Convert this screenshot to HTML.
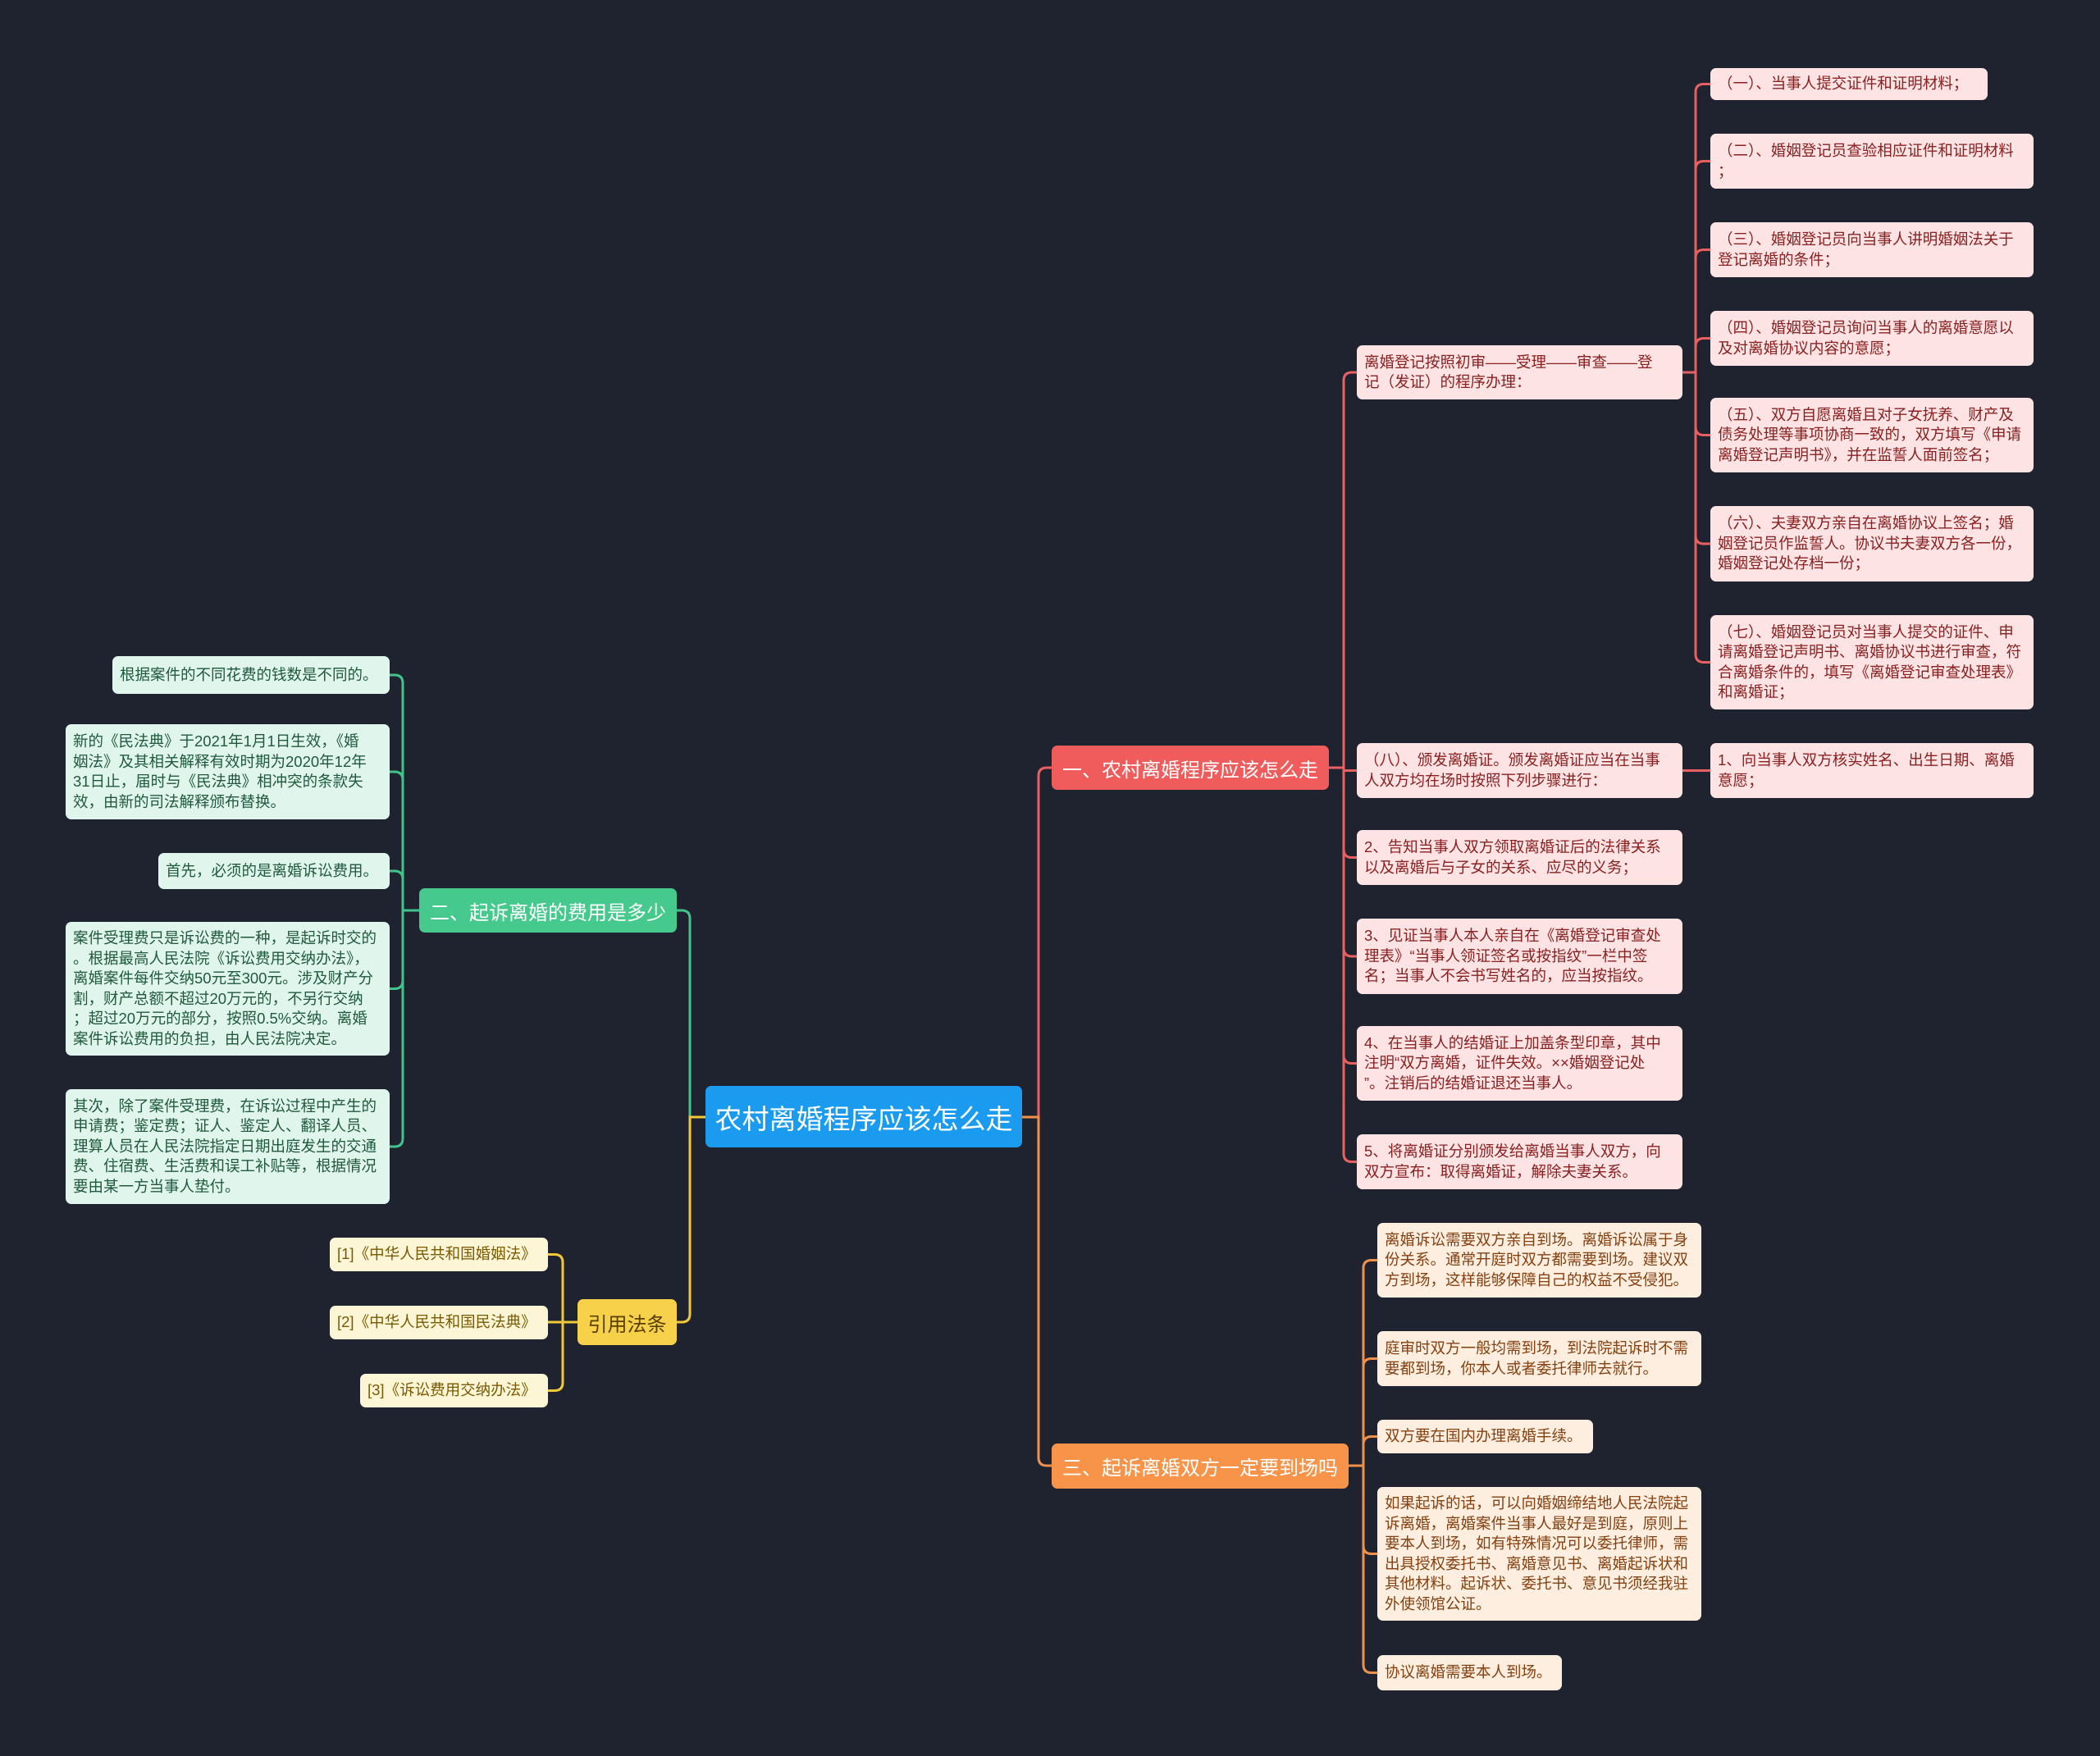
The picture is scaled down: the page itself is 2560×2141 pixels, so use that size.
<!DOCTYPE html>
<html><head><meta charset="utf-8">
<style>
html,body{margin:0;padding:0}
body{width:2560px;height:2141px;background:#1f2330;position:relative;overflow:hidden;font-family:"Liberation Sans","Noto Sans CJK SC",sans-serif}
.n{position:absolute;box-sizing:border-box;border-radius:7px;display:flex;align-items:center;white-space:nowrap}
.l{font-size:18.5px;line-height:24.5px;padding:0 9px}
.r{background:#fde3e3;color:#8a2020}
.o{background:#fdeedf;color:#854010}
.g{background:#e0f6ec;color:#1f5a3c}
.y{background:#fdf6d6;color:#7a5a00}
.b{font-size:24px;padding:0 12px;justify-content:center}
svg{position:absolute;left:0;top:0}
</style></head><body>
<svg width="2560" height="2141" fill="none" stroke-width="3">
<g stroke="#e86060">
<path d="M1246 1362 H1266 V946 Q1266 936 1276 936 H1282"/>
<path d="M1620 936 H1638 V464 Q1638 454 1648 454 H1654"/>
<path d="M1620 936 H1638 V939.5 H1654"/>
<path d="M1620 936 H1638 V1035.5 Q1638 1045.5 1648 1045.5 H1654"/>
<path d="M1620 936 H1638 V1156 Q1638 1166 1648 1166 H1654"/>
<path d="M1620 936 H1638 V1286.5 Q1638 1296.5 1648 1296.5 H1654"/>
<path d="M1620 936 H1638 V1406.5 Q1638 1416.5 1648 1416.5 H1654"/>
<path d="M2051 454 H2067 V112.5 Q2067 102.5 2077 102.5 H2085"/>
<path d="M2051 454 H2067 V206.5 Q2067 196.5 2077 196.5 H2085"/>
<path d="M2051 454 H2067 V314.5 Q2067 304.5 2077 304.5 H2085"/>
<path d="M2051 454 H2067 V422.5 Q2067 412.5 2077 412.5 H2085"/>
<path d="M2051 454 H2067 V520.5 Q2067 530.5 2077 530.5 H2085"/>
<path d="M2051 454 H2067 V653 Q2067 663 2077 663 H2085"/>
<path d="M2051 454 H2067 V797.5 Q2067 807.5 2077 807.5 H2085"/>
<path d="M2051 939.5 H2085"/>
</g>
<g stroke="#f0904a">
<path d="M1246 1362 H1266 V1777 Q1266 1787 1276 1787 H1282"/>
<path d="M1644 1787 H1662 V1546.5 Q1662 1536.5 1672 1536.5 H1679"/>
<path d="M1644 1787 H1662 V1666.5 Q1662 1656.5 1672 1656.5 H1679"/>
<path d="M1644 1787 H1662 V1761.5 Q1662 1751.5 1672 1751.5 H1679"/>
<path d="M1644 1787 H1662 V1884.5 Q1662 1894.5 1672 1894.5 H1679"/>
<path d="M1644 1787 H1662 V2029.5 Q1662 2039.5 1672 2039.5 H1679"/>
</g>
<g stroke="#3fc58a">
<path d="M861 1362 H841 V1120 Q841 1110 831 1110 H825"/>
<path d="M511 1110 H491 V833 Q491 823 481 823 H475"/>
<path d="M511 1110 H491 V951 Q491 941 481 941 H475"/>
<path d="M511 1110 H491 V1072 Q491 1062 481 1062 H475"/>
<path d="M511 1110 H491 V1195.5 Q491 1205.5 481 1205.5 H475"/>
<path d="M511 1110 H491 V1388 Q491 1398 481 1398 H475"/>
</g>
<g stroke="#f0c838">
<path d="M861 1362 H841 V1602 Q841 1612 831 1612 H825"/>
<path d="M704 1612 H686 V1539.5 Q686 1529.5 676 1529.5 H668"/>
<path d="M704 1612 H668"/>
<path d="M704 1612 H686 V1685.5 Q686 1695.5 676 1695.5 H668"/>
</g>
</svg>

<div class="n" style="left:860px;top:1324px;width:386px;height:75px;background:#1a9bf0;color:#fff;font-size:33px;justify-content:center">农村离婚程序应该怎么走</div>

<div class="n b" style="left:1282px;top:909px;width:338px;height:54px;background:#f05c5c;color:#fff">一、农村离婚程序应该怎么走</div>
<div class="n b" style="left:1282px;top:1760px;width:362px;height:55px;background:#f7944a;color:#fff">三、起诉离婚双方一定要到场吗</div>
<div class="n b" style="left:511px;top:1083px;width:314px;height:54px;background:#45c98c;color:#fff">二、起诉离婚的费用是多少</div>
<div class="n b" style="left:704px;top:1584px;width:121px;height:56px;background:#f7d14a;color:#5a4000">引用法条</div>

<div class="n l r" style="left:1654px;top:421px;width:397px;height:66px">离婚登记按照初审——受理——审查——登<br>记（发证）的程序办理：</div>
<div class="n l r" style="left:2085px;top:83px;width:338px;height:39px">（一）、当事人提交证件和证明材料；</div>
<div class="n l r" style="left:2085px;top:163px;width:394px;height:67px">（二）、婚姻登记员查验相应证件和证明材料<br>；</div>
<div class="n l r" style="left:2085px;top:271px;width:394px;height:67px">（三）、婚姻登记员向当事人讲明婚姻法关于<br>登记离婚的条件；</div>
<div class="n l r" style="left:2085px;top:379px;width:394px;height:67px">（四）、婚姻登记员询问当事人的离婚意愿以<br>及对离婚协议内容的意愿；</div>
<div class="n l r" style="left:2085px;top:485px;width:394px;height:91px">（五）、双方自愿离婚且对子女抚养、财产及<br>债务处理等事项协商一致的，双方填写《申请<br>离婚登记声明书》，并在监誓人面前签名；</div>
<div class="n l r" style="left:2085px;top:617px;width:394px;height:92px">（六）、夫妻双方亲自在离婚协议上签名；婚<br>姻登记员作监誓人。协议书夫妻双方各一份，<br>婚姻登记处存档一份；</div>
<div class="n l r" style="left:2085px;top:750px;width:394px;height:115px">（七）、婚姻登记员对当事人提交的证件、申<br>请离婚登记声明书、离婚协议书进行审查，符<br>合离婚条件的，填写《离婚登记审查处理表》<br>和离婚证；</div>
<div class="n l r" style="left:1654px;top:906px;width:397px;height:67px">（八）、颁发离婚证。颁发离婚证应当在当事<br>人双方均在场时按照下列步骤进行：</div>
<div class="n l r" style="left:2085px;top:906px;width:394px;height:67px">1、向当事人双方核实姓名、出生日期、离婚<br>意愿；</div>
<div class="n l r" style="left:1654px;top:1012px;width:397px;height:67px">2、告知当事人双方领取离婚证后的法律关系<br>以及离婚后与子女的关系、应尽的义务；</div>
<div class="n l r" style="left:1654px;top:1120px;width:397px;height:92px">3、见证当事人本人亲自在《离婚登记审查处<br>理表》“当事人领证签名或按指纹”一栏中签<br>名；当事人不会书写姓名的，应当按指纹。</div>
<div class="n l r" style="left:1654px;top:1251px;width:397px;height:91px">4、在当事人的结婚证上加盖条型印章，其中<br>注明“双方离婚，证件失效。××婚姻登记处<br>”。注销后的结婚证退还当事人。</div>
<div class="n l r" style="left:1654px;top:1383px;width:397px;height:67px">5、将离婚证分别颁发给离婚当事人双方，向<br>双方宣布：取得离婚证，解除夫妻关系。</div>

<div class="n l o" style="left:1679px;top:1491px;width:395px;height:91px">离婚诉讼需要双方亲自到场。离婚诉讼属于身<br>份关系。通常开庭时双方都需要到场。建议双<br>方到场，这样能够保障自己的权益不受侵犯。</div>
<div class="n l o" style="left:1679px;top:1623px;width:395px;height:67px">庭审时双方一般均需到场，到法院起诉时不需<br>要都到场，你本人或者委托律师去就行。</div>
<div class="n l o" style="left:1679px;top:1731px;width:263px;height:41px">双方要在国内办理离婚手续。</div>
<div class="n l o" style="left:1679px;top:1813px;width:395px;height:163px">如果起诉的话，可以向婚姻缔结地人民法院起<br>诉离婚，离婚案件当事人最好是到庭，原则上<br>要本人到场，如有特殊情况可以委托律师，需<br>出具授权委托书、离婚意见书、离婚起诉状和<br>其他材料。起诉状、委托书、意见书须经我驻<br>外使领馆公证。</div>
<div class="n l o" style="left:1679px;top:2018px;width:225px;height:43px">协议离婚需要本人到场。</div>

<div class="n l g" style="left:137px;top:800px;width:338px;height:46px">根据案件的不同花费的钱数是不同的。</div>
<div class="n l g" style="left:80px;top:883px;width:395px;height:116px">新的《民法典》于2021年1月1日生效，《婚<br>姻法》及其相关解释有效时期为2020年12年<br>31日止，届时与《民法典》相冲突的条款失<br>效，由新的司法解释颁布替换。</div>
<div class="n l g" style="left:193px;top:1040px;width:282px;height:44px">首先，必须的是离婚诉讼费用。</div>
<div class="n l g" style="left:80px;top:1124px;width:395px;height:163px">案件受理费只是诉讼费的一种，是起诉时交的<br>。根据最高人民法院《诉讼费用交纳办法》，<br>离婚案件每件交纳50元至300元。涉及财产分<br>割，财产总额不超过20万元的，不另行交纳<br>；超过20万元的部分，按照0.5%交纳。离婚<br>案件诉讼费用的负担，由人民法院决定。</div>
<div class="n l g" style="left:80px;top:1328px;width:395px;height:140px">其次，除了案件受理费，在诉讼过程中产生的<br>申请费；鉴定费；证人、鉴定人、翻译人员、<br>理算人员在人民法院指定日期出庭发生的交通<br>费、住宿费、生活费和误工补贴等，根据情况<br>要由某一方当事人垫付。</div>

<div class="n l y" style="left:402px;top:1509px;width:266px;height:41px">[1]《中华人民共和国婚姻法》</div>
<div class="n l y" style="left:402px;top:1592px;width:266px;height:41px">[2]《中华人民共和国民法典》</div>
<div class="n l y" style="left:439px;top:1675px;width:229px;height:41px">[3]《诉讼费用交纳办法》</div>
</body></html>
